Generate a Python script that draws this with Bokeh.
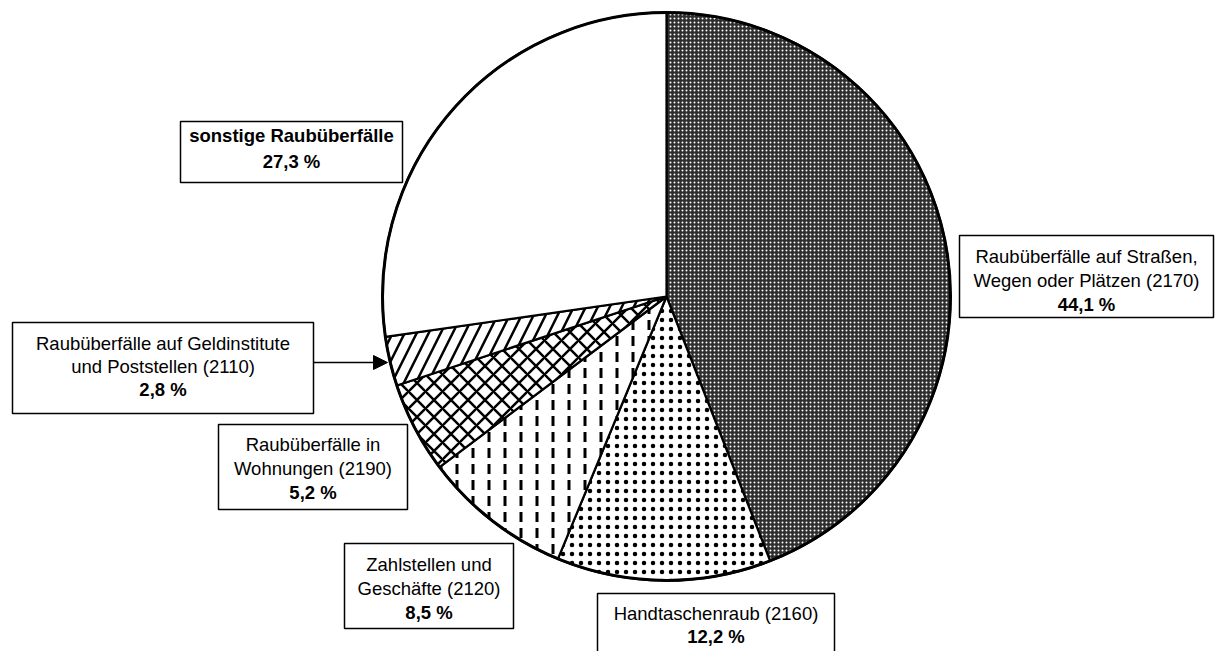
import numpy as np
from bokeh.plotting import figure
from bokeh.models import Range1d, Arrow, NormalHead
from bokeh.core.properties import value
from bokeh.embed import file_html
from bokeh.resources import INLINE

# ---- data ----
categories = [
    "Raubüberfälle auf Straßen, Wegen oder Plätzen (2170)",
    "Handtaschenraub (2160)",
    "Zahlstellen und Geschäfte (2120)",
    "Raubüberfälle in Wohnungen (2190)",
    "Raubüberfälle auf Geldinstitute und Poststellen (2110)",
    "sonstige Raubüberfälle",
]
label_lines = [
    ["Raubüberfälle auf Straßen,", "Wegen oder Plätzen (2170)"],
    ["Handtaschenraub (2160)"],
    ["Zahlstellen und", "Geschäfte (2120)"],
    ["Raubüberfälle in", "Wohnungen (2190)"],
    ["Raubüberfälle auf Geldinstitute", "und Poststellen (2110)"],
    ["sonstige Raubüberfälle"],
]
shares = [44.1, 12.2, 8.5, 5.2, 2.8, 27.3]

# ---- layout (reference pixel coords) ----
W, H, OFF = 1215, 651, 0
def X(x): return x - OFF
def Y(y): return H - (y - OFF)

CX, CY, R = 666, 296, 284

styles = [
    dict(fill_color="#2e2e2e", hatch_pattern="dot", hatch_color="white", hatch_scale=4, hatch_weight=1),
    dict(fill_color="white", hatch_pattern="dot", hatch_color="black", hatch_scale=9, hatch_weight=1),
    dict(fill_color="white", hatch_pattern="vertical_dash", hatch_color="black", hatch_scale=16, hatch_weight=3),
    dict(fill_color="white", hatch_pattern="diagonal_cross", hatch_color="black", hatch_scale=17, hatch_weight=2.5),
    dict(fill_color="white", hatch_pattern="right_diagonal_line", hatch_color="black", hatch_scale=24, hatch_weight=2.5),
    dict(fill_color="white"),
]
# box: left, top, right, bottom, first line y, gap, bold_all
boxes = [
    (959, 235, 1213, 317, 256, 24, False),
    (597, 593, 834, 690, 613, 23, False),
    (344, 543, 513, 628, 564, 24, False),
    (218, 424, 407, 509, 444, 24, False),
    (12, 322, 313, 413, 343, 23, False),
    (180, 121, 402, 182, 135, 26, True),
]

p = figure(width=W, height=H, x_range=Range1d(0, W), y_range=Range1d(0, H),
           output_backend="svg", toolbar_location=None, min_border=0)
p.axis.visible = False
p.grid.visible = False
p.outline_line_color = None
p.background_fill_color = "white"

total = sum(shares)
cum = np.concatenate([[0], np.cumsum(shares)]) / total
for i, s in enumerate(shares):
    a0 = np.pi / 2 - cum[i] * 2 * np.pi
    a1 = np.pi / 2 - cum[i + 1] * 2 * np.pi
    p.wedge(x=X(CX), y=Y(CY), radius=R, start_angle=a0, end_angle=a1,
            direction="clock", line_color="black", line_width=2.2, **styles[i])
p.circle(x=X(CX), y=Y(CY), radius=R, fill_color=None, line_color="black", line_width=3)

FONT = value("Liberation Sans")
for i, (l, t, r, b, y0, gap, bold_all) in enumerate(boxes):
    p.quad(left=X(l), right=X(r), top=Y(t), bottom=Y(b), fill_color="white",
           line_color="black", line_width=1.5)
    cx = X((l + r) / 2)
    lines = label_lines[i] + [f"{shares[i]:.1f}".replace(".", ",") + " %"]
    for j, txt in enumerate(lines):
        bold = bold_all or j == len(lines) - 1
        p.text(x=[cx], y=[Y(y0 + j * gap)], text=[txt], text_font=FONT,
               text_font_size="18.5px", text_align="center", text_baseline="middle",
               text_font_style="bold" if bold else "normal", text_color="black")

p.add_layout(Arrow(x_start=X(313), y_start=Y(362), x_end=X(387), y_end=Y(362),
                   line_width=1.5, line_color="black",
                   end=NormalHead(size=14, fill_color="black", line_color="black")))

open("out.html", "w").write(file_html(p, INLINE))
